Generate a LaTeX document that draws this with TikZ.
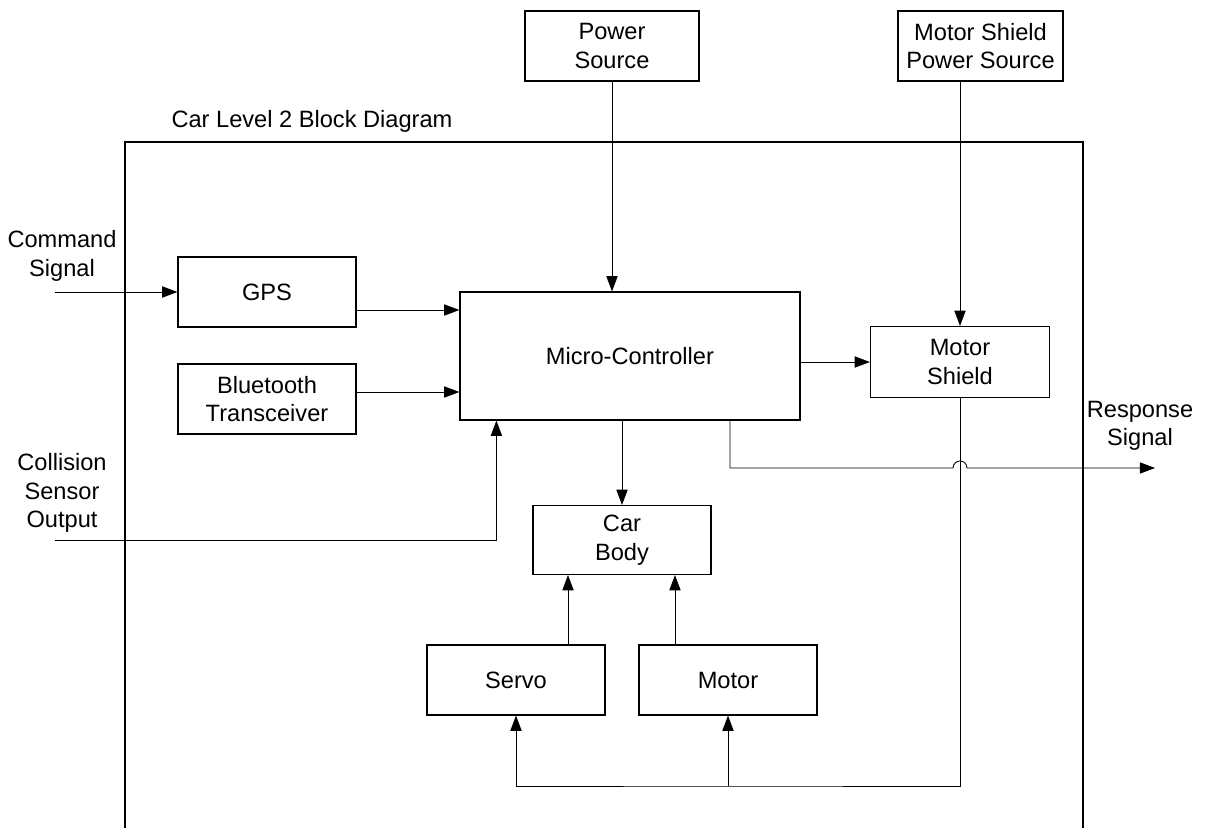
\documentclass[tikz,border=0pt]{standalone}
\usepackage{fontspec}
\setmainfont{Liberation Sans}
\usetikzlibrary{positioning,arrows.meta}
\tikzset{
  sigarrow/.style={-{Triangle[length=3.8mm, width=2.8mm]}, line width=0.6pt},
  frameline/.style={line width=0.8pt},
  block/.style={draw, line width=0.8pt, minimum width=4.45cm, minimum height=1.75cm, align=center, inner sep=2pt},
  caption/.style={align=center, inner sep=0pt}
}

\begin{document}
\begin{tikzpicture}[x=0.025cm, y=-0.025cm, every node/.style={font=\fontsize{16.8}{20.2}\selectfont}]
  \useasboundingbox (0,0) rectangle (1217,828);
  % outer frame, open at the bottom
  \draw[frameline] (125,828) |- (1083,142) -- (1083,828);
  \node[caption] (title) at (312,121) {Car Level 2 Block Diagram};

  \node[block, minimum width=4.35cm] (power) at (612,46) {Power\\Source};
  \node[block, minimum width=4.125cm] (msps) at (980.5,46) {Motor Shield\\Power Source};
  \node[block] (gps) at (267,292) {GPS};
  \node[block] (bt) at (267,399) {Bluetooth\\Transceiver};
  \node[block, minimum width=8.5cm, minimum height=3.2cm] (micro) at (630,356) {Micro-Controller};
  \node[block, minimum width=4.475cm, minimum height=1.775cm] (mshield) at (960,362) {Motor\\Shield};
  \node[block, minimum height=1.725cm] (body) at (622,540) {Car\\Body};
  \node[block] (servo) at (516,680) {Servo};
  \node[block] (motor) at (728,680) {Motor};

  \node[caption] (cmdlabel) at (62,256) {Command\\Signal};
  \node[caption] (csolabel) at (62,493) {Collision\\Sensor\\Output};
  \node[caption] (resplabel) at (1140,426) {Response\\Signal};

  \coordinate (cmd) at (55,292);
  \coordinate (cso) at (55,540);
  \coordinate (resp) at (1155,468);
  \coordinate (hop) at (953,468);
  \coordinate (bus) at (728,786);

  \draw[sigarrow] (cmd) -- (gps.west);
  \draw[sigarrow] ([yshift=-0.45cm]gps.east) coordinate (g) -- (g -| micro.west);
  \draw[sigarrow] ([yshift=0.175cm]bt.east) coordinate (b) -- (b -| micro.west);
  \draw[sigarrow] (power.south) -- (power.south |- micro.north);
  \draw[sigarrow] (msps.south -| mshield.north) -- (mshield.north);
  \draw[sigarrow] (micro.east |- mshield.west) -- (mshield.west);
  \draw[sigarrow] (micro.south -| body.north) -- (body.north);
  \draw[sigarrow] (cso) -| ([xshift=0.925cm]micro.south west);
  \draw[sigarrow] ([xshift=1.3cm]servo.north) coordinate (s) -- (s |- body.south);
  \draw[sigarrow] ([xshift=-1.325cm]motor.north) coordinate (m) -- (m |- body.south);
  \draw[sigarrow] (mshield.south) |- (bus) -| (servo.south);
  \draw[sigarrow] (bus) -- (motor.south);
  \draw[sigarrow] ([xshift=2.5cm]micro.south) |- (hop) arc[start angle=180, end angle=360, radius=7] -- (resp);
\end{tikzpicture}
\end{document}
